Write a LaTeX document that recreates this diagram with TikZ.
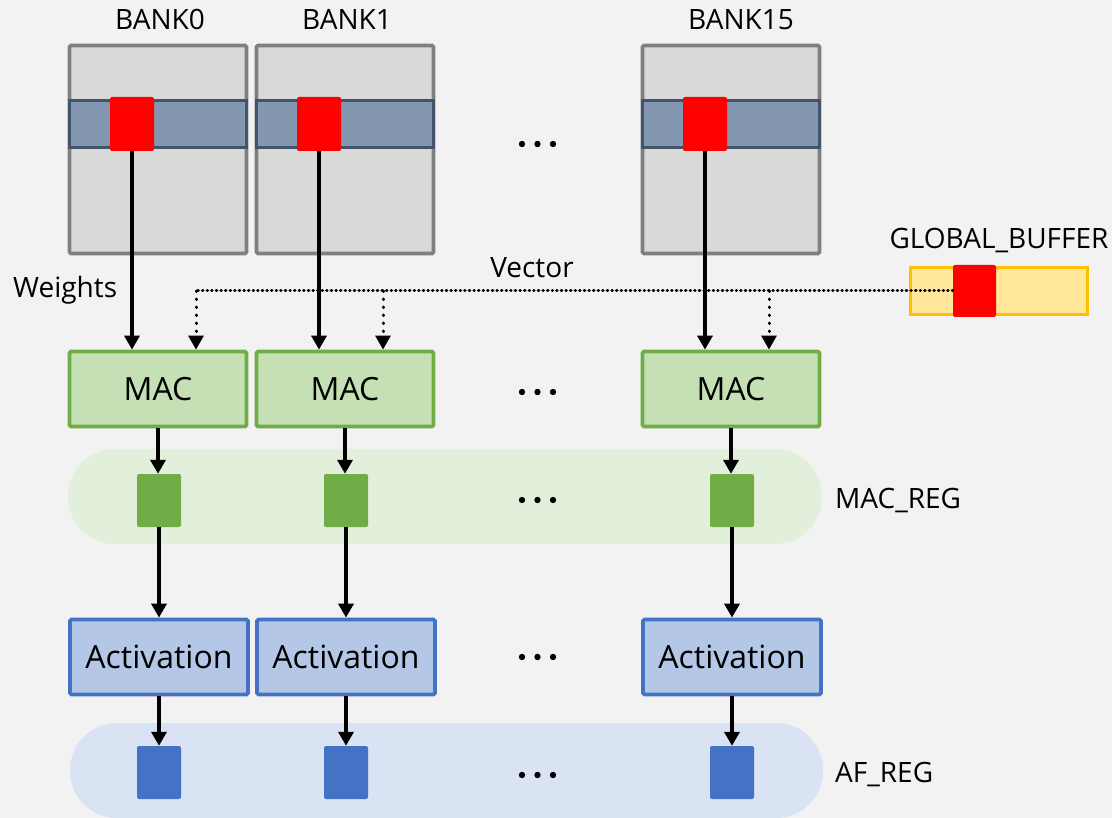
\documentclass[tikz,border=0pt]{standalone}
\usepackage{fontspec}
\setmainfont{Open Sans}
\usetikzlibrary{arrows.meta}
\definecolor{bg}{HTML}{F2F2F2}
\definecolor{bankfill}{HTML}{D9D9D9}
\definecolor{bankline}{HTML}{7F7F7F}
\definecolor{rowfill}{HTML}{8497B0}
\definecolor{rowline}{HTML}{44546A}
\definecolor{macfill}{HTML}{C5E0B4}
\definecolor{macline}{HTML}{70AD47}
\definecolor{macpill}{HTML}{E2EFDA}
\definecolor{actfill}{HTML}{B4C7E7}
\definecolor{actline}{HTML}{4472C4}
\definecolor{afpill}{HTML}{DAE3F3}
\definecolor{buffill}{HTML}{FFE699}
\definecolor{bufline}{HTML}{FFC000}
\tikzset{
  bankbox/.style={draw=bankline, fill=bankfill, line width=3.8pt, minimum width=177pt, minimum height=208pt, inner sep=0pt, rounded corners=1.5pt},
  rowbox/.style={draw=rowline, fill=rowfill, line width=3.8pt, minimum width=177pt, minimum height=47pt, inner sep=0pt},
  redbox/.style={fill=red, draw=none, minimum width=44pt, minimum height=54pt, inner sep=0pt, rounded corners=2pt},
  macbox/.style={draw=macline, fill=macfill, line width=3.8pt, minimum width=177pt, minimum height=75pt, inner sep=0pt, rounded corners=1.5pt, font=\fontsize{32}{36}\selectfont},
  actbox/.style={draw=actline, fill=actfill, line width=3.8pt, minimum width=178pt, minimum height=75pt, inner sep=0pt, rounded corners=1.5pt, font=\fontsize{32}{36}\selectfont},
  greg/.style={fill=macline, draw=none, minimum width=44pt, minimum height=53pt, inner sep=0pt, rounded corners=2pt},
  breg/.style={fill=actline, draw=none, minimum width=44pt, minimum height=53pt, inner sep=0pt, rounded corners=2pt},
  pill/.style={draw=none, minimum height=95pt, inner sep=0pt, rounded corners=47pt},
  lbl/.style={inner sep=0pt, font=\fontsize{28}{32}\selectfont},
  arr/.style={line width=4pt, -{Triangle[width=15pt,length=14pt]}},
  dotline/.style={line width=3pt, line cap=round, dash pattern=on 0.6pt off 4pt},
  dotlinev/.style={line width=3pt, line cap=round, dash pattern=on 0.6pt off 7.4pt, -{Triangle[width=15pt,length=14pt]}},
}
\begin{document}
\begin{tikzpicture}[x=1pt,y=-1pt]
\useasboundingbox (0,0) rectangle (1112,818);
\fill[bg] (0,0) rectangle (1112,818);

% register pills
\node[pill, fill=macpill, minimum width=754pt] (macreg) at (445,496.5) {};
\node[pill, fill=afpill, minimum width=753pt] (afreg) at (446.5,770.5) {};

% banks
\foreach \n/\x in {0/158,1/345,15/731}{
  \node[bankbox] (b\n) at (\x,149.5) {};
  \node[rowbox] (row\n) at (\x,124) {};
  \node[redbox] (r\n) at (\x-26,124) {};
  \node[lbl, anchor=base west] (bl\n) at (\x-43,30) {BANK\n};
  \node[macbox] (m\n) at (\x,389) {MAC};
  \node[greg] (g\n) at (\x+1,500.5) {};
  \node[actbox] (a\n) at (\x+1,657) {Activation};
  \node[breg] (f\n) at (\x+1,772.5) {};
}

% global buffer
\node[draw=bufline, fill=buffill, line width=3.8pt, minimum width=177pt, minimum height=47pt, inner sep=0pt] (gb) at (999,291) {};
\node[redbox, minimum width=43pt, minimum height=52pt] (gbr) at (974.5,291) {};
\node[lbl, anchor=base] (gbl) at (999,249) {GLOBAL\_BUFFER};

% labels
\node[lbl, anchor=base west] (wl) at (13,298) {Weights};
\node[lbl, anchor=base] (vl) at (532,278) {Vector};
\node[lbl, anchor=base west] (mrl) at (835,508) {MAC\_REG};
\node[lbl, anchor=base west] (arl) at (835,782) {AF\_REG};

% ellipsis dots
\foreach \y in {144,392,500,657,775}{
  \foreach \x in {522,537.5,553}{
    \fill (\x,\y) circle (3.2pt);
  }
}

% weights and data arrows
\foreach \n in {0,1,15}{
  \draw[arr] (r\n.south) -- (r\n.south |- m\n.north);
  \draw[arr] (m\n.south) -- (m\n.south |- g\n.north);
  \draw[arr] (g\n.south) -- (a\n.north);
  \draw[arr] (a\n.south) -- (f\n.north);
}

% vector broadcast
\coordinate (v0) at (196,291);
\coordinate (v1) at (383,291);
\coordinate (v15) at (769,291);
\draw[dotline] (gbr.west) -- (v0);
\foreach \n in {0,1,15}{
  \draw[dotlinev] (v\n) -- (v\n |- m\n.north);
}
\end{tikzpicture}
\end{document}
